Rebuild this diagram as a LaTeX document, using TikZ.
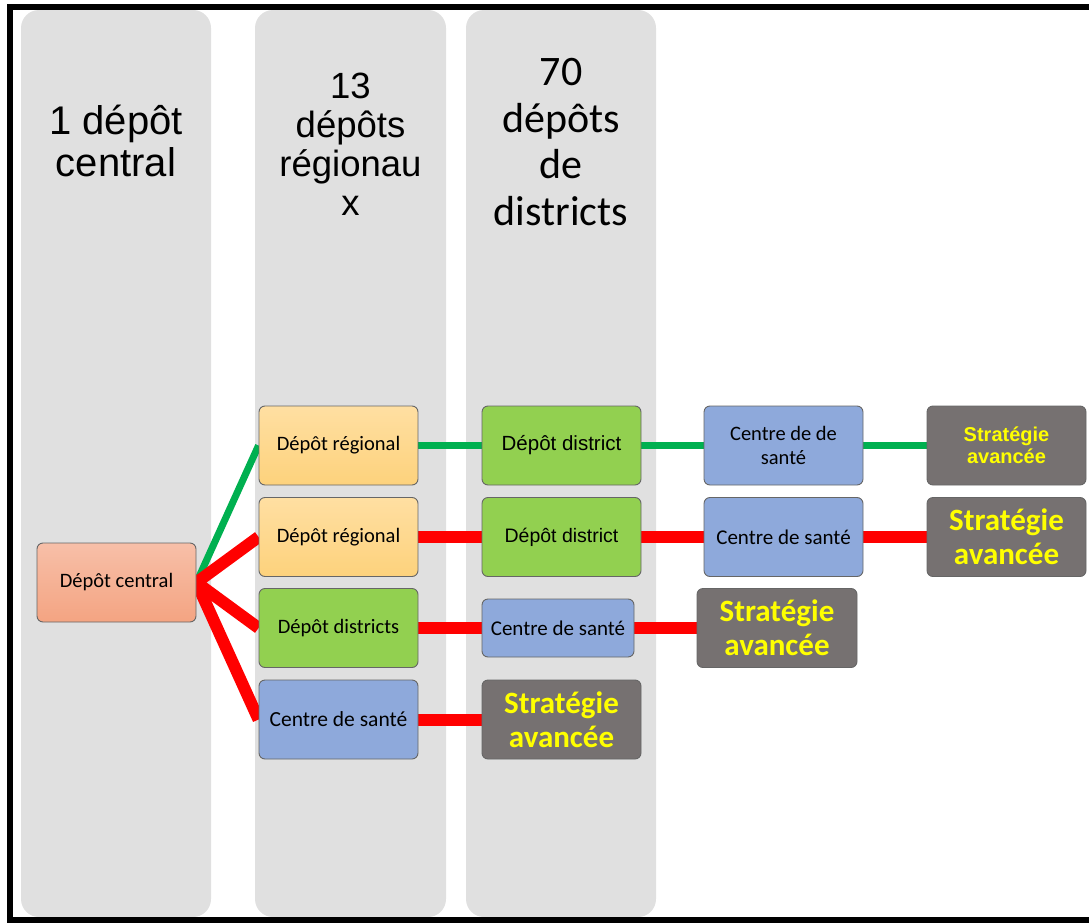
\documentclass[tikz,border=0pt]{standalone}
\usepackage{fontspec}
\setmainfont{Carlito}
\newfontfamily\arialf{Liberation Sans}
\newfontfamily\calf{Carlito}
\pgfdeclarelayer{cols}
\pgfdeclarelayer{links}
\pgfsetlayers{cols,links,main}
\definecolor{colgray}{HTML}{E0E0E0}
\definecolor{cgreen}{HTML}{92D050}
\definecolor{cblue}{HTML}{8EA9DB}
\definecolor{cdark}{HTML}{767171}
\definecolor{lgreen}{HTML}{00B050}
\definecolor{lred}{HTML}{FF0000}
\definecolor{cyel}{HTML}{FFFF00}
\definecolor{orTop}{HTML}{FFDFA2}
\definecolor{orBot}{HTML}{FDD27C}
\definecolor{saTop}{HTML}{F7BFA8}
\definecolor{saBot}{HTML}{F4A482}
\tikzset{
  box/.style={rectangle, rounded corners=6pt, draw=black!60, line width=0.9pt,
    minimum width=159pt, minimum height=79pt, inner sep=2pt, align=center,
    font=\calf\fontsize{20.5}{24}\selectfont},
  regbox/.style={box, top color=orTop, bottom color=orBot},
  cenbox/.style={box, top color=saTop, bottom color=saBot},
  grnbox/.style={box, fill=cgreen},
  blubox/.style={box, fill=cblue},
  stratbox/.style={box, fill=cdark, text=cyel,
    font=\calf\bfseries\fontsize{31}{34}\selectfont},
  coltitle/.style={inner sep=0pt, anchor=north, align=center},
  colbg/.style={fill=colgray, rounded corners=18pt},
  glink/.style={lgreen, line width=7pt},
  rlink/.style={lred, line width=12pt},
}
\begin{document}
\begin{tikzpicture}[x=1pt,y=-1pt]
\useasboundingbox (0,0) rectangle (1089,923);
\clip (0,0) rectangle (1089,923);
% columns
\begin{pgfonlayer}{cols}
  \path[colbg] (21,10) rectangle (211,917);
  \path[colbg] (255,10) rectangle (446,917);
  \path[colbg] (466,10) rectangle (656,917);
\end{pgfonlayer}
% frame (right side lies outside the picture)
\draw[line width=6pt] (1120,7) -- (10,7) -- (10,920) -- (1120,920);
% column titles
\node[coltitle, font=\arialf\fontsize{40}{42}\selectfont] (t1) at (116,105) {1 dépôt\\central};
\node[coltitle, font=\arialf\fontsize{36.5}{39}\selectfont] (t2) at (350.5,73) {13\\dépôts\\régionau\\x};
\node[coltitle, font=\calf\fontsize{42}{46.5}\selectfont] (t3) at (561,58.5) {70\\dépôts\\de\\districts};
% boxes
\node[cenbox] (dc) at (116.5,582.5) {Dépôt central};
\node[regbox] (r1) at (338.5,445.5) {Dépôt régional};
\node[regbox] (r2) at (338.5,537) {Dépôt régional};
\node[grnbox] (dd) at (338.5,628) {Dépôt districts};
\node[blubox, font=\calf\fontsize{21.5}{24}\selectfont] (cs2) at (338.5,719.5) {Centre de santé};
\node[grnbox, font=\arialf\fontsize{20.5}{24}\selectfont] (d1) at (561.5,445.5) {Dépôt district};
\node[grnbox, font=\arialf\fontsize{19.5}{24}\selectfont] (d2) at (561.5,537) {Dépôt district};
\node[blubox, minimum width=152pt, minimum height=58pt, font=\calf\fontsize{21}{24}\selectfont] (cs3) at (558,628) {Centre de santé};
\node[stratbox] (sa3) at (561.5,719.5) {Stratégie\\avancée};
\node[blubox] (c41) at (783.5,445.5) {Centre de de\\santé};
\node[blubox, font=\calf\fontsize{21}{24}\selectfont] (c42) at (783.5,537) {Centre de santé};
\node[stratbox, minimum width=160pt] (sa43) at (777,628) {Stratégie\\avancée};
\node[stratbox, font=\arialf\bfseries\fontsize{20}{22}\selectfont] (sa51) at (1006.5,445.5) {Stratégie\\avancée};
\node[stratbox] (sa52) at (1006.5,537) {Stratégie\\avancée};
% links
\begin{pgfonlayer}{links}
  \draw[glink] (dc.east) -- (r1.west);
  \draw[glink] (r1) -- (d1);
  \draw[glink] (d1) -- (c41);
  \draw[glink] (c41) -- (sa51);
  \draw[rlink] (dc.east) -- (r2.west);
  \draw[rlink] (r2) -- (d2);
  \draw[rlink] (d2) -- (c42);
  \draw[rlink] (c42) -- (sa52);
  \draw[rlink] (dc.east) -- (dd.west);
  \draw[rlink] (dd) -- (cs3);
  \draw[rlink] (cs3) -- (sa43);
  \draw[rlink] (dc.east) -- (cs2.west);
  \draw[rlink] (cs2) -- (sa3);
\end{pgfonlayer}
\end{tikzpicture}
\end{document}
